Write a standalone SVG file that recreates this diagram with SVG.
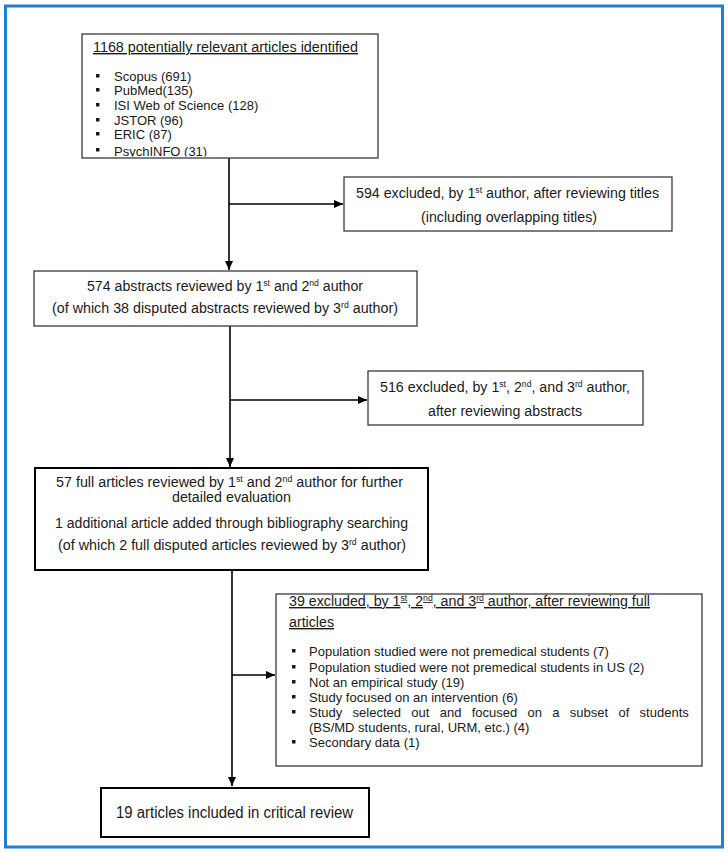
<svg xmlns="http://www.w3.org/2000/svg" width="728" height="853" viewBox="0 0 728 853">
  <defs>
    <style>
      text { font-family: "Liberation Sans", Arial, sans-serif; fill: #1a1a1a; }
      .t14 { font-size: 14px; }
      .t13 { font-size: 13px; }
      .t16 { font-size: 16px; }
      .u { text-decoration: underline; }
      .sup { font-size: 8.5px; }
      .thin { fill: #ffffff; stroke: #3a3a3a; stroke-width: 1.3; }
      .thick { fill: #ffffff; stroke: #000000; stroke-width: 2; }
      .conn { stroke: #000000; stroke-width: 1.6; fill: none; }
      .bul { fill: #1a1a1a; }
    </style>
    <marker id="arr" markerUnits="userSpaceOnUse" markerWidth="10" markerHeight="10" refX="9" refY="5" orient="auto">
      <path d="M0,1 L9,5 L0,9 Z" fill="#000000"/>
    </marker>
    <clipPath id="clip1">
      <rect x="82" y="35" width="296" height="121.5"/>
    </clipPath>
  </defs>

  <rect x="5.5" y="6" width="717" height="841" fill="#ffffff" stroke="#1f7fd2" stroke-width="3"/>

  <g id="connectors">
    <line class="conn" x1="229" y1="158" x2="229" y2="270" marker-end="url(#arr)"/>
    <line class="conn" x1="229" y1="204" x2="343" y2="204" marker-end="url(#arr)"/>
    <line class="conn" x1="230" y1="326" x2="230" y2="467" marker-end="url(#arr)"/>
    <line class="conn" x1="230" y1="400" x2="367" y2="400" marker-end="url(#arr)"/>
    <line class="conn" x1="232" y1="570" x2="232" y2="786" marker-end="url(#arr)"/>
    <line class="conn" x1="232" y1="675" x2="275" y2="675" marker-end="url(#arr)"/>
  </g>

  <g id="identified">
    <rect class="thin" x="82" y="34" width="296" height="124"/>
    <text class="t14 u" x="93" y="52" textLength="265" lengthAdjust="spacingAndGlyphs">1168 potentially relevant articles identified</text>
    <g clip-path="url(#clip1)">
      <rect class="bul" x="96" y="74" width="3.5" height="3.5"/>
      <text class="t13" x="114" y="81">Scopus (691)</text>
      <rect class="bul" x="96" y="88" width="3.5" height="3.5"/>
      <text class="t13" x="114" y="95">PubMed(135)</text>
      <rect class="bul" x="96" y="103" width="3.5" height="3.5"/>
      <text class="t13" x="114" y="110">ISI Web of Science (128)</text>
      <rect class="bul" x="96" y="118" width="3.5" height="3.5"/>
      <text class="t13" x="114" y="125">JSTOR (96)</text>
      <rect class="bul" x="96" y="132" width="3.5" height="3.5"/>
      <text class="t13" x="114" y="139">ERIC (87)</text>
      <rect class="bul" x="96" y="148" width="3.5" height="3.5"/>
      <text class="t13" x="114" y="155.5">PsychINFO (31)</text>
    </g>
  </g>

  <g id="excluded-titles">
    <rect class="thin" x="344" y="177" width="328" height="54"/>
    <text class="t14" x="356" y="198" textLength="303" lengthAdjust="spacingAndGlyphs">594 excluded, by 1<tspan class="sup" dy="-5">st</tspan><tspan dy="5"> author, after reviewing titles</tspan></text>
    <text class="t14" x="421" y="222" textLength="176" lengthAdjust="spacingAndGlyphs">(including overlapping titles)</text>
  </g>

  <g id="abstracts">
    <rect class="thin" x="34" y="271" width="383" height="55"/>
    <text class="t14" x="87" y="291" textLength="276" lengthAdjust="spacingAndGlyphs">574 abstracts reviewed by 1<tspan class="sup" dy="-5">st</tspan><tspan dy="5"> and 2</tspan><tspan class="sup" dy="-5">nd</tspan><tspan dy="5"> author</tspan></text>
    <text class="t14" x="52" y="313" textLength="346" lengthAdjust="spacingAndGlyphs">(of which 38 disputed abstracts reviewed by 3<tspan class="sup" dy="-5">rd</tspan><tspan dy="5">  author)</tspan></text>
  </g>

  <g id="excluded-abstracts">
    <rect class="thin" x="368" y="371" width="275" height="54"/>
    <text class="t14" x="380" y="392" textLength="250" lengthAdjust="spacingAndGlyphs">516 excluded, by 1<tspan class="sup" dy="-5">st</tspan><tspan dy="5">, 2</tspan><tspan class="sup" dy="-5">nd</tspan><tspan dy="5">, and 3</tspan><tspan class="sup" dy="-5">rd</tspan><tspan dy="5"> author,</tspan></text>
    <text class="t14" x="428" y="416" textLength="154" lengthAdjust="spacingAndGlyphs">after reviewing abstracts</text>
  </g>

  <g id="full-articles">
    <rect class="thick" x="35" y="468" width="393" height="102"/>
    <text class="t14" x="56" y="487" textLength="347" lengthAdjust="spacingAndGlyphs">57 full articles reviewed by 1<tspan class="sup" dy="-5">st</tspan><tspan dy="5"> and 2</tspan><tspan class="sup" dy="-5">nd</tspan><tspan dy="5"> author for further</tspan></text>
    <text class="t14" x="172" y="502" textLength="119" lengthAdjust="spacingAndGlyphs">detailed evaluation</text>
    <text class="t14" x="55" y="528" textLength="353" lengthAdjust="spacingAndGlyphs">1 additional article added through bibliography searching</text>
    <text class="t14" x="58" y="550" textLength="348" lengthAdjust="spacingAndGlyphs">(of which 2 full disputed articles reviewed by 3<tspan class="sup" dy="-5">rd</tspan><tspan dy="5"> author)</tspan></text>
  </g>

  <g id="excluded-full">
    <rect class="thin" x="276" y="594" width="426" height="172"/>
    <text class="t14 u" x="289" y="606" textLength="361" lengthAdjust="spacingAndGlyphs">39 excluded, by 1<tspan class="sup" dy="-5">st</tspan><tspan dy="5">, 2</tspan><tspan class="sup" dy="-5">nd</tspan><tspan dy="5">, and 3</tspan><tspan class="sup" dy="-5">rd</tspan><tspan dy="5"> author, after reviewing full</tspan></text>
    <text class="t14 u" x="289" y="627" textLength="45" lengthAdjust="spacingAndGlyphs">articles</text>
    <rect class="bul" x="292" y="649" width="3.5" height="3.5"/>
    <text class="t13" x="309" y="656">Population studied were not premedical students (7)</text>
    <rect class="bul" x="292" y="665" width="3.5" height="3.5"/>
    <text class="t13" x="309" y="672">Population studied were not premedical students in US (2)</text>
    <rect class="bul" x="292" y="680" width="3.5" height="3.5"/>
    <text class="t13" x="309" y="687">Not an empirical study (19)</text>
    <rect class="bul" x="292" y="695" width="3.5" height="3.5"/>
    <text class="t13" x="309" y="702">Study focused on an intervention (6)</text>
    <rect class="bul" x="292" y="710" width="3.5" height="3.5"/>
    <text class="t13" x="309" y="717" word-spacing="6.7">Study selected out and focused on a subset of students</text>
    <text class="t13" x="309" y="732">(BS/MD students, rural, URM, etc.) (4)</text>
    <rect class="bul" x="292" y="740" width="3.5" height="3.5"/>
    <text class="t13" x="309" y="747">Secondary data (1)</text>
  </g>

  <g id="included">
    <rect class="thick" x="101" y="788" width="268" height="49"/>
    <text class="t16" x="116" y="818" textLength="237" lengthAdjust="spacingAndGlyphs">19 articles included in critical review</text>
  </g>
</svg>
